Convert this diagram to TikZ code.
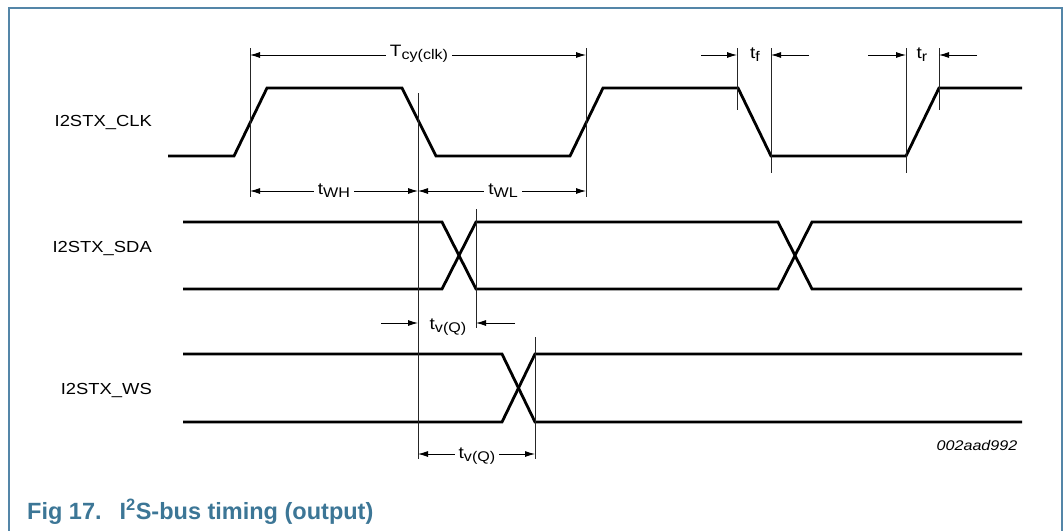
\documentclass[tikz,border=0pt]{standalone}
\usepackage{fontspec}
\setmainfont{Liberation Sans}
\newfontfamily\widefont[FakeStretch=1.15]{Liberation Sans}
\usetikzlibrary{arrows.meta}
\definecolor{framecol}{RGB}{84,134,168}
\definecolor{capcol}{RGB}{60,118,150}
\tikzset{
  wave/.style={line width=2.8pt, line join=miter, black},
  guide/.style={line width=0.9pt, black!85},
  dim/.style={line width=0.9pt, {Latex[length=10pt,width=6pt]}-{Latex[length=10pt,width=6pt]}},
  dimin/.style={line width=0.9pt, -{Latex[length=10pt,width=6pt]}},
  lbl/.style={font=\widefont\fontsize{16}{18}\selectfont, inner sep=0pt},
  dimlbl/.style={font=\widefont\fontsize{16.5}{18}\selectfont, fill=white, inner xsep=4pt, inner ysep=1pt},
}
\newcommand{\sbs}[1]{\raisebox{-0.35ex}{\fontsize{14}{15}\selectfont #1}}
\begin{document}
\begin{tikzpicture}[x=1pt,y=-1pt]
\useasboundingbox (0,0) rectangle (1064,530);
\draw[framecol, line width=1.4pt] (9,560) -- (9,8) -- (1062,8) -- (1062,560);

% signal labels
\node[lbl, anchor=east] (lclk) at (152,123) {I2STX\_CLK};
\node[lbl, anchor=east] (lsda) at (152,248) {I2STX\_SDA};
\node[lbl, anchor=east] (lws) at (152,390) {I2STX\_WS};

% CLK waveform
\draw[wave] (168,156) -- (234,156) -- (267,88) -- (402,88) -- (436,156) -- (570,156) -- (603,88) -- (738,88) -- (771,156) -- (906,156) -- (939,88) -- (1022,88);

% SDA waveform
\draw[wave] (183,222) -- (442,222) -- (476,289) -- (778,289) -- (812,222) -- (1022,222);
\draw[wave] (183,289) -- (442,289) -- (476,222) -- (778,222) -- (812,289) -- (1022,289);

% WS waveform
\draw[wave] (183,354) -- (502,354) -- (535,422) -- (1022,422);
\draw[wave] (183,422) -- (502,422) -- (535,354) -- (1022,354);

% guide lines
\coordinate (g1t) at (250,48);  \coordinate (g1b) at (250,197);
\coordinate (g2t) at (586,48);  \coordinate (g2b) at (586,197);
\coordinate (g3t) at (418,93);  \coordinate (g3b) at (418,459);
\coordinate (g4t) at (476,209); \coordinate (g4b) at (476,328);
\coordinate (g5t) at (535,337); \coordinate (g5b) at (535,459);
\coordinate (g6t) at (737,48);  \coordinate (g6b) at (737,110);
\coordinate (g7t) at (771,48);  \coordinate (g7b) at (771,173);
\coordinate (g8t) at (906,48);  \coordinate (g8b) at (906,173);
\coordinate (g9t) at (939,48);  \coordinate (g9b) at (939,110);
\foreach \g in {1,...,9} { \draw[guide] (g\g t) -- (g\g b); }

% Tcy(clk)
\coordinate (tcyL) at (250,55); \coordinate (tcyR) at (586,55);
\draw[dim] (tcyL) -- (tcyR);
\node[dimlbl] (tcy) at (419,54) {T\sbs{cy(clk)}};

% tWH / tWL
\coordinate (whL) at (250,191); \coordinate (whR) at (418,191); \coordinate (wlR) at (586,191);
\draw[dim] (whL) -- (whR);
\draw[dim] (whR) -- (wlR);
\node[dimlbl] (twh) at (334,191) {t\sbs{WH}};
\node[dimlbl] (twl) at (503,191) {t\sbs{WL}};

% tf
\coordinate (tfa) at (701,55); \coordinate (tfb) at (737,55);
\coordinate (tfc) at (809,55); \coordinate (tfd) at (771,55);
\draw[dimin] (tfa) -- (tfb);
\draw[dimin] (tfc) -- (tfd);
\node[lbl, font=\widefont\fontsize{16.5}{18}\selectfont] (tf) at (755,55) {t\sbs{f}};

% tr
\coordinate (tra) at (868,55); \coordinate (trb) at (906,55);
\coordinate (trc) at (977,55); \coordinate (trd) at (939,55);
\draw[dimin] (tra) -- (trb);
\draw[dimin] (trc) -- (trd);
\node[lbl, font=\widefont\fontsize{16.5}{18}\selectfont] (tr) at (922,55) {t\sbs{r}};

% tv(Q) SDA
\coordinate (va) at (381,323); \coordinate (vb) at (418,323);
\coordinate (vc) at (515,323); \coordinate (vd) at (476,323);
\draw[dimin] (va) -- (vb);
\draw[dimin] (vc) -- (vd);
\node[lbl, font=\widefont\fontsize{16.5}{18}\selectfont] (tvq1) at (448,327) {t\sbs{v(Q)}};

% tv(Q) WS
\coordinate (wa) at (418,454); \coordinate (wb) at (535,454);
\draw[dim] (wa) -- (wb);
\node[dimlbl] (tvq2) at (477,456) {t\sbs{v(Q)}};

% figure code
\node[font=\widefont\itshape\fontsize{14}{16}\selectfont, inner sep=0pt] (code) at (977,445) {002aad992};

% caption
\node[anchor=west, font=\bfseries\fontsize{23.5}{25}\selectfont, text=capcol, inner sep=0pt] (cap) at (27,512) {Fig 17.\hspace{18pt}I\textsuperscript{2}S-bus timing (output)};
\end{tikzpicture}
\end{document}
